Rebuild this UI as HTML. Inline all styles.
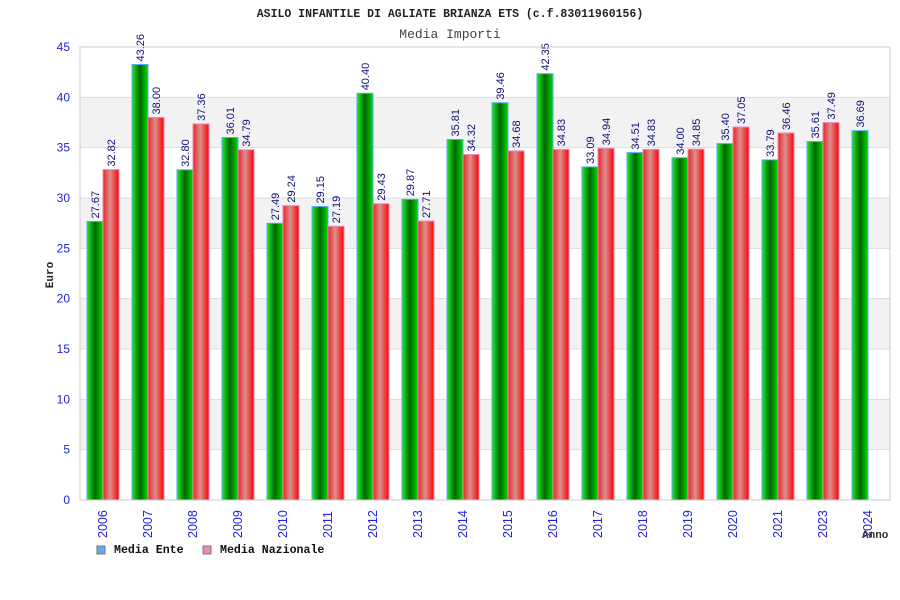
<!DOCTYPE html>
<html><head><meta charset="utf-8"><style>
body{margin:0;background:#fff;width:900px;height:600px;overflow:hidden}
svg{display:block}
</style></head><body>
<svg id="chart" width="900" height="600" xmlns="http://www.w3.org/2000/svg">
<defs>
<linearGradient id="gG" x1="0" x2="1" y1="0" y2="0">
<stop offset="0" stop-color="#22ee22"/><stop offset="0.5" stop-color="#006600"/><stop offset="1" stop-color="#00dd00"/></linearGradient>
<linearGradient id="gR" x1="0" x2="1" y1="0" y2="0">
<stop offset="0" stop-color="#ee2222"/><stop offset="0.45" stop-color="#d99090"/><stop offset="1" stop-color="#ff0000"/></linearGradient>
</defs>
<text x="450" y="17" text-anchor="middle" font-family="Liberation Mono, monospace" font-weight="bold" font-size="11.5" fill="#222">ASILO INFANTILE DI AGLIATE BRIANZA ETS (c.f.83011960156)</text>
<text x="450" y="38" text-anchor="middle" font-family="Liberation Mono, monospace" font-size="13" fill="#444">Media Importi</text>
<g id="grid"></g><g id="bars"></g><g id="axes"></g>
<text x="53" y="275" transform="rotate(-90 53 275)" text-anchor="middle" font-family="Liberation Mono, monospace" font-weight="bold" font-size="11" fill="#222">Euro</text>
<text x="862" y="538" font-family="Liberation Mono, monospace" font-weight="bold" font-size="11" fill="#333">Anno</text>
<g>
<rect x="97" y="546" width="8" height="8" fill="#66aaee" stroke="#777"/>
<text x="114" y="553" font-family="Liberation Mono, monospace" font-weight="bold" font-size="11.6" fill="#111">Media Ente</text>
<rect x="203" y="546" width="8" height="8" fill="#ee88bb" stroke="#777"/>
<text x="220" y="553" font-family="Liberation Mono, monospace" font-weight="bold" font-size="11.6" fill="#111">Media Nazionale</text>
</g>
</svg>
<script>
const categories=["2006","2007","2008","2009","2010","2011","2012","2013","2014","2015","2016","2017","2018","2019","2020","2021","2023","2024"];
const ente=[27.67,43.26,32.80,36.01,27.49,29.15,40.40,29.87,35.81,39.46,42.35,33.09,34.51,34.00,35.40,33.79,35.61,36.69];
const nazionale=[32.82,38.00,37.36,34.79,29.24,27.19,29.43,27.71,34.32,34.68,34.83,34.94,34.83,34.85,37.05,36.46,37.49,null];
const yTicks=[0,5,10,15,20,25,30,35,40,45];
const NS="http://www.w3.org/2000/svg";
const L=80,R=890,T=47,B=500,ymax=45;
const y=v=>B-(v/ymax)*(B-T);
const gw=(R-L)/categories.length;
const x=i=>L+i*gw;
function mk(tag,attrs,parent){const e=document.createElementNS(NS,tag);for(const k in attrs)e.setAttribute(k,attrs[k]);parent.appendChild(e);return e;}
const grid=document.getElementById('grid'),bars=document.getElementById('bars'),axes=document.getElementById('axes');
for(let k=0;k<yTicks.length-1;k++){
  const a=yTicks[k],b=yTicks[k+1];
  const r=mk('rect',{x:L,y:y(b),width:R-L,height:y(a)-y(b),fill:(k%2===1)?'#f2f2f2':'#fff'},grid);
  
  
}
yTicks.forEach(t=>{
  const l=mk('line',{x1:L,x2:R,y1:y(t),y2:y(t),stroke:'#dddddd'},grid);
  
  
  const tx=mk('text',{x:70,y:y(t)+4,'text-anchor':'end','font-family':'Liberation Sans, sans-serif','font-size':12,fill:'#2222dd'},axes);
  tx.textContent=t;
  
  
});
mk('rect',{x:L,y:T,width:R-L,height:B-T,fill:'none',stroke:'#cccccc'},axes);
function label(val,cx,top){
  const t=mk('text',{x:cx+4,y:top-3,transform:`rotate(-90 ${cx+4} ${top-3})`,'font-family':'Liberation Sans, sans-serif','font-size':11,fill:'#111177'},bars);
  t.textContent=val.toFixed(2);
  
  
}
const bw=16;
categories.forEach((c,i)=>{
  const gx=x(i)+7;
  if(ente[i]!=null){
    const r=mk('rect',{x:gx,y:y(ente[i]),width:bw,height:B-y(ente[i]),fill:'url(#gG)',stroke:'#55aaee','stroke-width':1},bars);
    
    
    label(ente[i],gx+bw/2,y(ente[i]));
  }
  if(nazionale[i]!=null){
    const r=mk('rect',{x:gx+bw,y:y(nazionale[i]),width:bw,height:B-y(nazionale[i]),fill:'url(#gR)',stroke:'#ee88bb','stroke-width':1},bars);
    
    
    label(nazionale[i],gx+bw+bw/2,y(nazionale[i]));
  }
  const cx=gx+bw+4;
  const t=mk('text',{x:cx,y:538,transform:`rotate(-90 ${cx} 538)`,'font-family':'Liberation Sans, sans-serif','font-size':12.5,fill:'#2222dd'},axes);
  t.textContent=c;
  
  
});
</script>
</body></html>
